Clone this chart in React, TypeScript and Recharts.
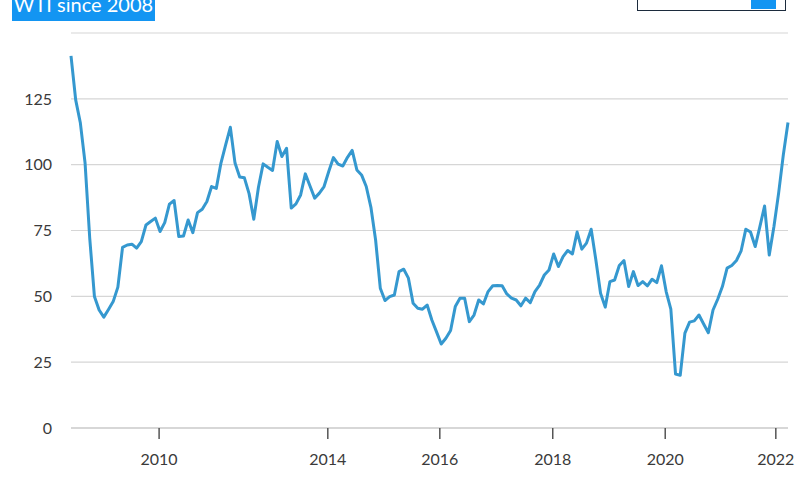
import { CartesianGrid, Line, LineChart, XAxis, YAxis } from "recharts"

// monthly WTI closes (mid 2008 .. early 2022)
const prices = [
  141.3, 124.6, 115.8, 100.7, 72, 49.9, 44.8, 42.1, 45, 48,
  53.5, 68.6, 69.5, 69.8, 68.3, 70.8, 77.1, 78.4, 79.7, 74.6,
  78, 85, 86.4, 72.7, 72.9, 79, 74.2, 81.8, 83.1, 86,
  91.7, 91, 100.6, 107.5, 114.2, 100.6, 95.3, 95, 89, 79.3,
  91.4, 100.3, 99, 97.8, 108.8, 103.1, 106.2, 83.5, 85.1, 88.5,
  96.5, 91.9, 87.3, 89.2, 91.7, 97.4, 102.7, 100.2, 99.5, 102.8,
  105.4, 98, 96.1, 91.7, 83.8, 71.4, 53.1, 48.4, 49.9, 50.5,
  59.4, 60.3, 56.9, 47.4, 45.5, 45.1, 46.7, 41, 36.5, 31.9,
  34.1, 37, 46.1, 49.3, 49.3, 40.4, 42.9, 48.6, 47.1, 51.8,
  54, 54.1, 54, 50.9, 49.3, 48.6, 46.4, 49.3, 47.6, 51.8,
  54.3, 58.1, 60, 66.1, 61.3, 65.1, 67.4, 66.1, 74.4, 67.9,
  70.2, 75.5, 63.8, 51.2, 45.9, 55.6, 56.2, 61.7, 63.6, 53.7,
  59.4, 54.1, 55.6, 54, 56.5, 55.2, 61.6, 51.8, 45.1, 20.5,
  20, 36, 40.2, 40.7, 42.9, 39.5, 36.2, 44.8, 48.9, 53.7,
  60.7, 61.7, 63.6, 67.3, 75.5, 74.4, 68.9, 76.5, 84.3, 65.7,
  76.5, 89.2, 103.7, 116,
]

const yearLabels = ["2010", "2014", "2016", "2018", "2020", "2022"]
const yearTickIndex = [18.8, 54.8, 78.7, 102.8, 126.8, 150.4]
const priceTicks = [0, 25, 50, 75, 100, 125, 150]

const data = prices.map((price, i) => ({ i, price }))

const BLUE = "#1395f2"

function YTick(props: any) {
  const { x, y, payload } = props
  if (payload.value === 150) return null
  return (
    <text x={x} y={y} dy="0.36em" textAnchor="end" fill="#3a3a3a" fontSize={16} fontFamily="Lato">
      {payload.value}
    </text>
  )
}

function XTick(props: any) {
  const { x, y, payload } = props
  const idx = yearTickIndex.indexOf(payload.value)
  return (
    <text x={x} y={y} dy={24} textAnchor="middle" fill="#3a3a3a" fontSize={16} fontFamily="Lato">
      {yearLabels[idx]}
    </text>
  )
}

export default function App() {
  return (
    <div
      style={{
        position: "absolute",
        left: 0,
        top: 0,
        width: 799,
        height: 483,
        overflow: "hidden",
        background: "#fff",
        fontFamily: "Lato, sans-serif",
      }}
    >
      <div
        style={{
          position: "absolute",
          left: 12,
          top: -8,
          width: 143,
          height: 28.7,
          background: BLUE,
          color: "#fff",
          fontSize: 20,
          lineHeight: "24px",
          textAlign: "center",
          whiteSpace: "nowrap",
        }}
      >
        WTI since 2008
      </div>
      <div
        style={{
          position: "absolute",
          left: 637,
          top: -20,
          width: 149,
          height: 30.5,
          border: "1.5px solid #1c2b3d",
          boxSizing: "border-box",
        }}
      />
      <div
        style={{
          position: "absolute",
          left: 751,
          top: -10,
          width: 25,
          height: 18.7,
          background: BLUE,
        }}
      />
      <LineChart width={799} height={483} data={data} margin={{ top: 33, right: 11, left: 0, bottom: 0 }}>
        <CartesianGrid vertical={false} stroke="#d6d6d6" strokeWidth={1.2} />
        <XAxis
          dataKey="i"
          type="number"
          domain={[0, prices.length - 1]}
          ticks={yearTickIndex}
          height={55}
          axisLine={{ stroke: "#d0d0d0", strokeWidth: 1.5 }}
          tickLine={{ stroke: "#555", strokeWidth: 1.5 }}
          tickSize={11}
          tickMargin={2}
          tick={<XTick />}
          interval={0}
        />
        <YAxis
          type="number"
          domain={[0, 150]}
          ticks={priceTicks}
          width={71}
          axisLine={false}
          tickLine={false}
          tickSize={0}
          tickMargin={19}
          tick={<YTick />}
          interval={0}
        />
        <Line
          type="linear"
          dataKey="price"
          stroke="#3598cf"
          strokeWidth={3}
          strokeLinejoin="round"
          dot={false}
          activeDot={false}
          isAnimationActive={false}
        />
      </LineChart>
    </div>
  )
}
